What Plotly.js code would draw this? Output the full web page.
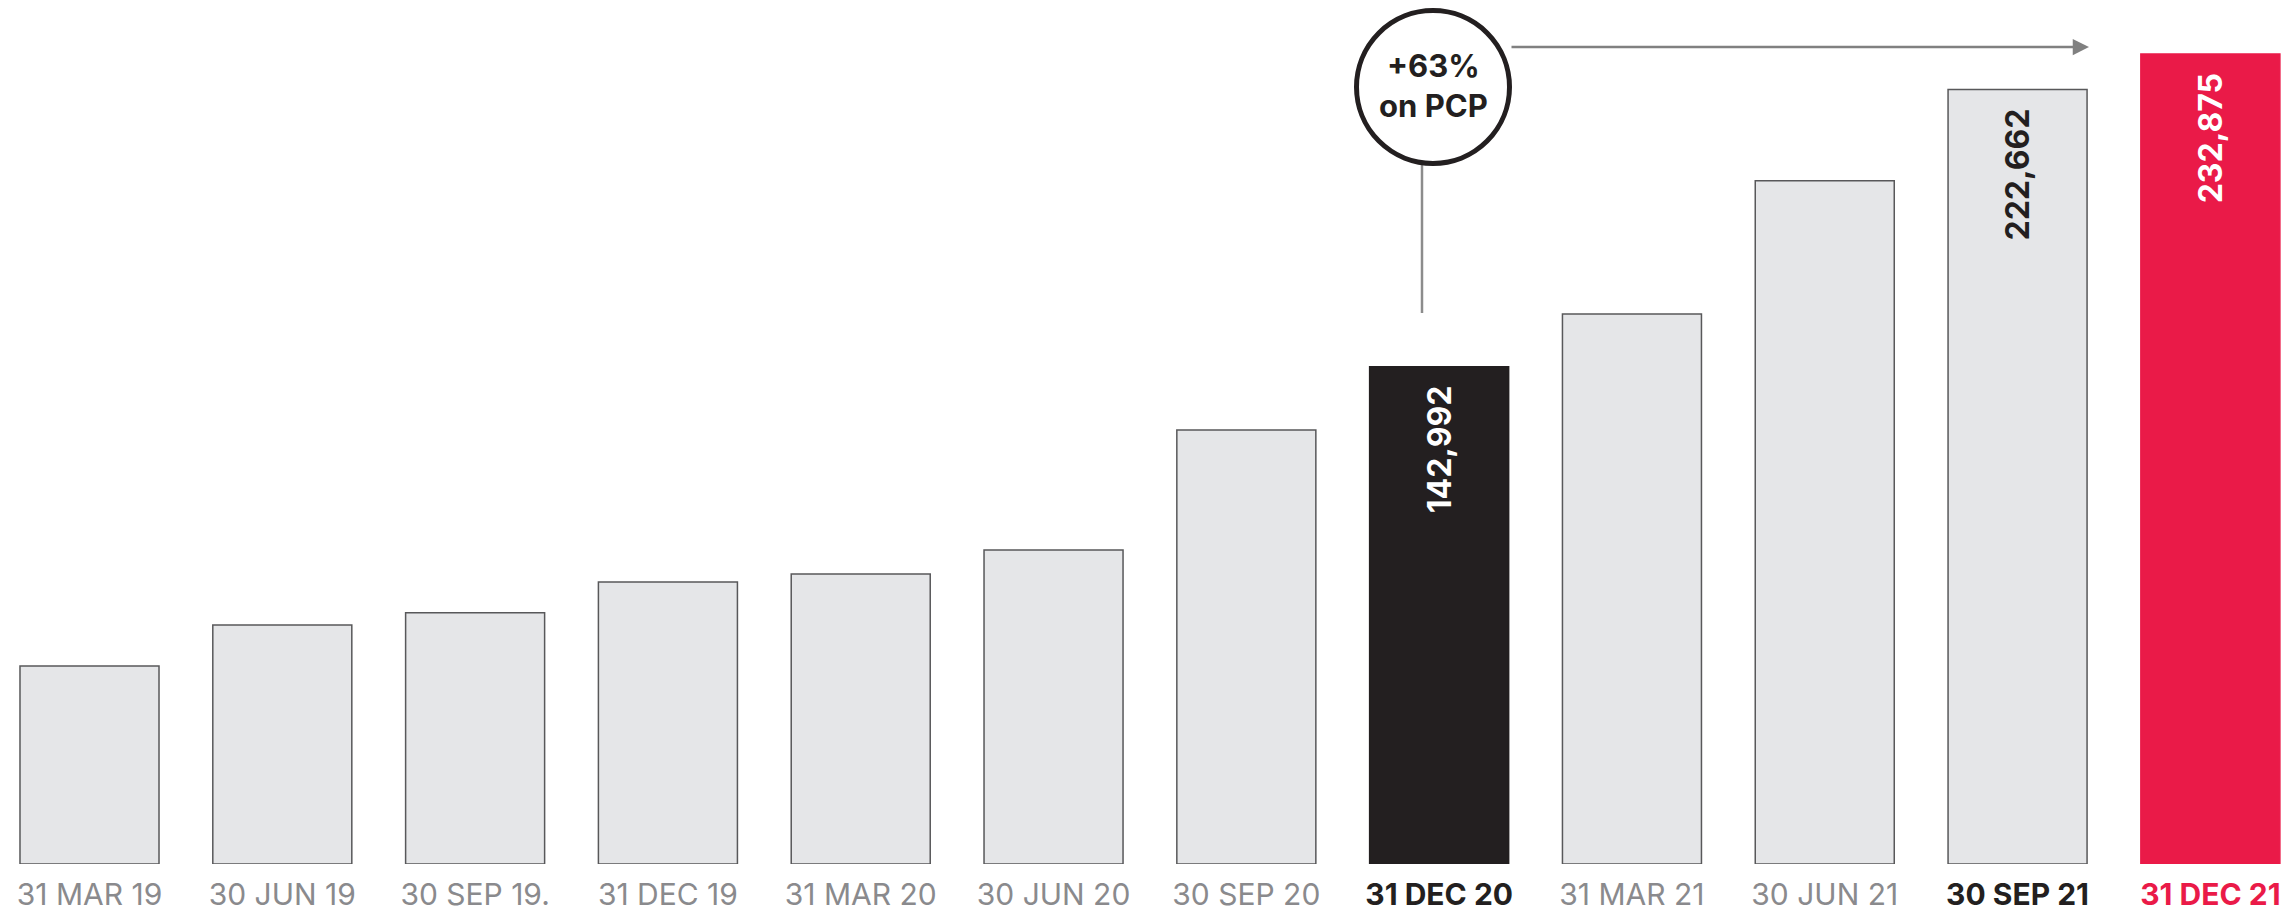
<!DOCTYPE html>
<html>
<head>
<meta charset="utf-8">
<script src="https://cdn.plot.ly/plotly-3.0.1.min.js"></script>
<style>html,body{margin:0;padding:0;background:#fff;}#chart{width:2290px;height:912px;}</style>
</head>
<body>
<div id="chart"></div>
<script>
// ---- data ----
const categories = ["31 MAR 19","30 JUN 19","30 SEP 19.","31 DEC 19","31 MAR 20","30 JUN 20","30 SEP 20","31 DEC 20","31 MAR 21","30 JUN 21","30 SEP 21","31 DEC 21"];
const values = [56900, 68700, 72200, 81100, 83400, 90300, 124800, 142992, 158100, 196400, 222662, 232875];
const valueLabels = ["","","","","","","","142,992","","","222,662","232,875"];
const tickLabels = [
  "31 MAR 19","30 JUN 19","30 SEP 19.","31 DEC 19","31 MAR 20","30 JUN 20","30 SEP 20",
  "<b><span style='color:#231f20'>31 DEC 20</span></b>","31 MAR 21","30 JUN 21",
  "<b><span style='color:#231f20'>30 SEP 21</span></b>",
  "<b><span style='color:#ea1a48'>31 DEC 21</span></b>"
];
const growthNote = "+63%<br>on PCP";

// ---- styling ----
const GREY = "#e5e6e8", BLACK = "#231f20", RED = "#ea1a48";
const barColors = categories.map((c, i) => i === 7 ? BLACK : (i === 11 ? RED : GREY));
const lineColors = categories.map((c, i) => i === 7 ? BLACK : (i === 11 ? RED : "#58585a"));
const labelColors = categories.map((c, i) => (i === 7 || i === 11) ? "#ffffff" : BLACK);
const xIdx = categories.map((c, i) => i);
const barText = valueLabels.map(t => t ? t + "\u2002" : "");

const W = 2290, PH = 864;
const px = v => v / W;
const py = v => (PH - v) / PH;

const trace = {
  type: "bar",
  x: xIdx,
  y: values,
  text: barText,
  textposition: "inside",
  insidetextanchor: "end",
  textangle: -90,
  constraintext: "none",
  textfont: {family: "Inter, 'Open Sans', sans-serif", size: 32, color: labelColors, weight: 700},
  marker: {color: barColors, line: {color: lineColors, width: 1.5}},
  hoverinfo: "skip",
  cliponaxis: false
};

const layout = {
  width: 2290, height: 912,
  margin: {l: 0, r: 0, t: 0, b: 48, pad: 0},
  paper_bgcolor: "#ffffff", plot_bgcolor: "#ffffff",
  showlegend: false,
  bargap: 0.279,
  xaxis: {
    range: [-0.4642, 11.413],
    tickmode: "array", tickvals: xIdx, ticktext: tickLabels,
    tickfont: {family: "Inter, 'Open Sans', sans-serif", size: 30, color: "#8a8a8d"},
    showgrid: false, zeroline: false, showline: false, ticks: "", automargin: false,
    ticklabelstandoff: 10
  },
  yaxis: {
    range: [0, 248400],
    visible: false, showgrid: false, zeroline: false, fixedrange: true
  },
  shapes: [
    {type: "line", xref: "paper", yref: "paper", x0: px(1422), x1: px(1422), y0: py(164), y1: py(313),
     line: {color: "#8c8c8c", width: 2.5}},
    {type: "circle", xref: "paper", yref: "paper",
     x0: px(1433 - 76.5), x1: px(1433 + 76.5), y0: py(87 + 76.5), y1: py(87 - 76.5),
     fillcolor: "#ffffff", line: {color: BLACK, width: 5}}
  ],
  annotations: [
    {xref: "paper", yref: "paper", x: px(2089), y: py(47), ax: -(2089 - 1510), ay: 0,
     axref: "pixel", ayref: "pixel", text: "", showarrow: true, arrowhead: 2, arrowsize: 1.3,
     arrowwidth: 2.5, arrowcolor: "#808080", standoff: 0, startstandoff: 0},
    {xref: "paper", yref: "paper", x: px(1433), y: py(85), xanchor: "center", yanchor: "middle",
     text: "<b>" + growthNote + "</b>", showarrow: false,
     font: {family: "Inter, 'Open Sans', sans-serif", size: 31, color: BLACK}}
  ]
};

Plotly.newPlot("chart", [trace], layout, {displayModeBar: false, staticPlot: true});
</script>
</body>
</html>
